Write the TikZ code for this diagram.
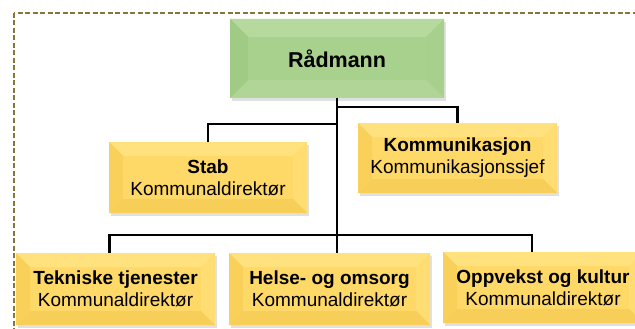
\documentclass[tikz,border=0pt]{standalone}
\usepackage{fontspec}
\setmainfont{Liberation Sans}
\definecolor{frameC}{HTML}{86763A}
\definecolor{Gface}{HTML}{A9D18E}
\definecolor{Gtop}{HTML}{B6DA9E}
\definecolor{Gleft}{HTML}{A0CB85}
\definecolor{Gright}{HTML}{A7D08C}
\definecolor{Gbottom}{HTML}{B0D596}
\definecolor{Yface}{HTML}{FFD967}
\definecolor{Ytop}{HTML}{FFE17E}
\definecolor{Yleft}{HTML}{F9D05A}
\definecolor{Yright}{HTML}{FFDD72}
\definecolor{Ybottom}{HTML}{F7CE58}
\newcommand\bevelpp[2]{%
  \coordinate (@nw) at (path picture bounding box.north west);
  \coordinate (@ne) at (path picture bounding box.north east);
  \coordinate (@sw) at (path picture bounding box.south west);
  \coordinate (@se) at (path picture bounding box.south east);
  \coordinate (@inw) at ([shift={(#1,-#1)}]@nw);
  \coordinate (@ine) at ([shift={(-#1,-#1)}]@ne);
  \coordinate (@isw) at ([shift={(#1,#1)}]@sw);
  \coordinate (@ise) at ([shift={(-#1,#1)}]@se);
  \fill[#2top] (@nw) -- (@ne) -- (@ine) -- (@inw) -- cycle;
  \fill[#2right] (@ne) -- (@se) -- (@ise) -- (@ine) -- cycle;
  \fill[#2bottom] (@se) -- (@sw) -- (@isw) -- (@ise) -- cycle;
  \fill[#2left] (@sw) -- (@nw) -- (@inw) -- (@isw) -- cycle;
}
\tikzset{
  orgbox/.style={rectangle, inner sep=0pt, align=center,
    font=\fontsize{19pt}{22pt}\selectfont},
  greenbox/.style={orgbox, fill=Gface, path picture={\bevelpp{18pt}{G}}},
  yellowbox/.style={orgbox, fill=Yface, path picture={\bevelpp{14pt}{Y}}},
  shadowed/.style={preaction={fill=black, opacity=0.12, transform canvas={shift={(1.5pt,-3pt)}}}},
  conn/.style={draw=black, line width=2.6pt},
  frame/.style={draw=frameC, line width=1.5pt, dash pattern=on 5pt off 2.5pt}
}
\begin{document}
\begin{tikzpicture}[x=1pt,y=-1pt]
\useasboundingbox (0,0) rectangle (635,329);
\draw[frame] (14,13) rectangle (650,345);

\node[greenbox, shadowed, minimum width=214pt, minimum height=79pt,
  font=\bfseries\fontsize{21.5pt}{24pt}\selectfont] (rad) at (337,58.5) {Rådmann};
\node[yellowbox, shadowed, minimum width=198pt, minimum height=71pt] (stab) at (208,177.5)
  {\textbf{Stab}\\Kommunaldirektør};
\node[yellowbox, shadowed, minimum width=199pt, minimum height=70pt] (komm) at (457.5,158)
  {\textbf{Kommunikasjon}\\Kommunikasjonssjef};
\node[yellowbox, shadowed, minimum width=199pt, minimum height=72pt] (tek) at (115.5,289)
  {\textbf{Tekniske tjenester}\\Kommunaldirektør};
\node[yellowbox, shadowed, minimum width=201pt, minimum height=72pt] (hel) at (329.5,289)
  {\textbf{Helse- og omsorg}\\Kommunaldirektør};
\node[yellowbox, shadowed, minimum width=200pt, minimum height=71pt] (opp) at (543,287.5)
  {\textbf{Oppvekst og kultur}\\Kommunaldirektør};

\coordinate (j1) at (337,107);
\coordinate (j2) at (337,124);
\coordinate (j3) at (337,235);
\draw[conn] (rad.south) -- (rad.south |- hel.north);
\draw[conn] (j1) -| (komm.north);
\draw[conn] (j2) -| (stab.north);
\draw[conn] ([xshift=-6pt]tek.north) |- (j3) -| ([xshift=-11pt]opp.north);
\end{tikzpicture}
\end{document}
